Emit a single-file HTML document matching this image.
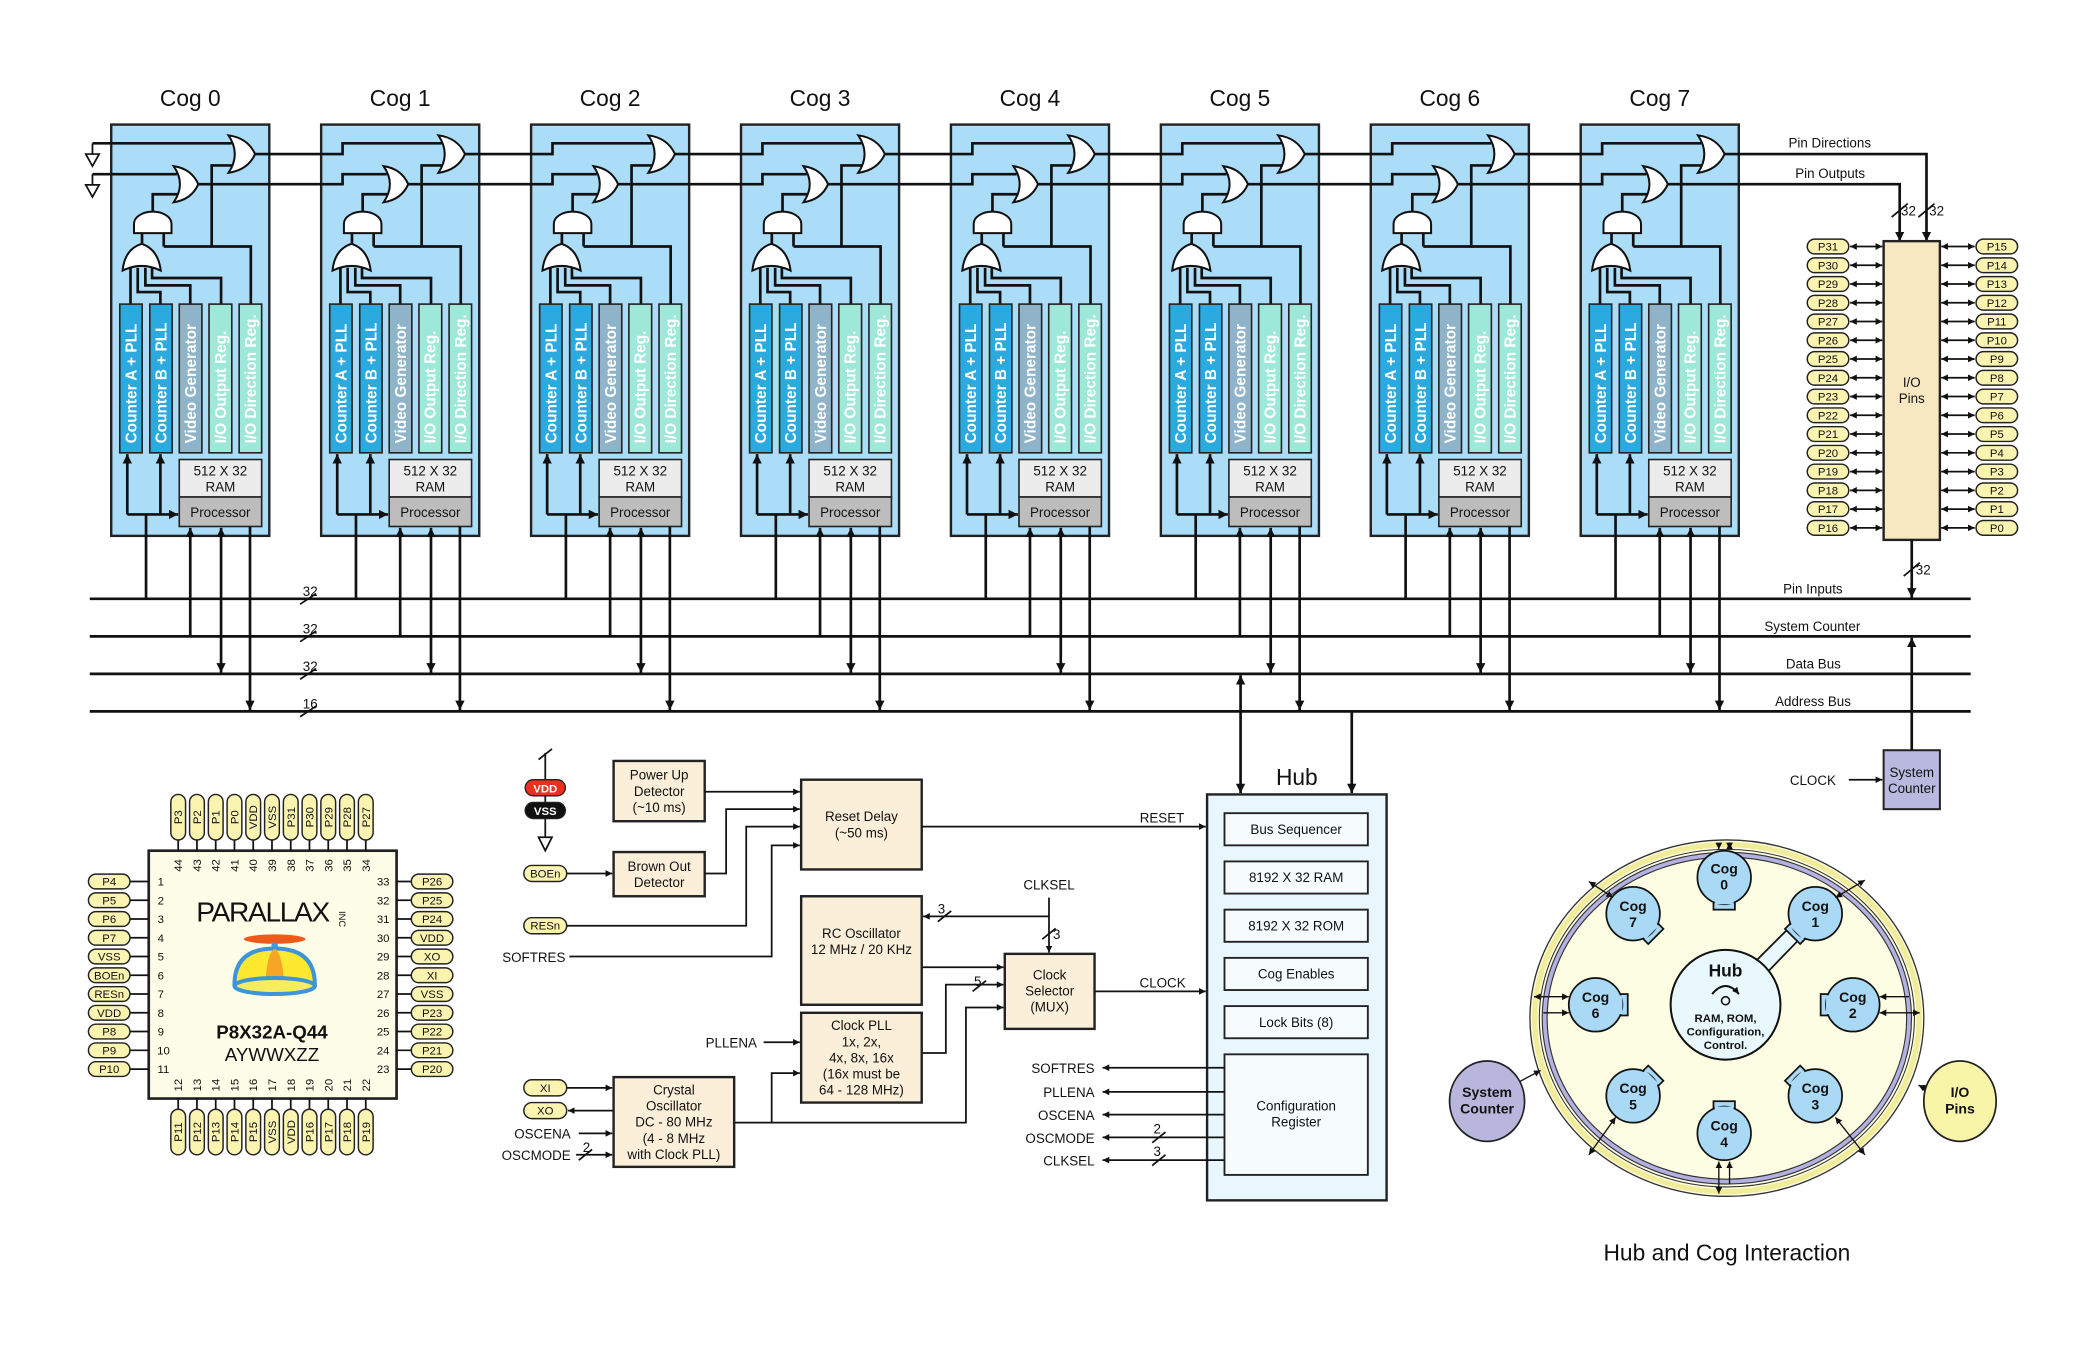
<!DOCTYPE html>
<html><head><meta charset="utf-8"><style>
html,body{margin:0;padding:0;background:#fff}
svg{display:block}
text{font-family:"Liberation Sans",sans-serif;fill:#111}
.t{font-size:17px;text-anchor:middle}
.cb{fill:#abdcf8;stroke:#222;stroke-width:1.8}
.w{fill:none;stroke:#111;stroke-width:2}
.n{fill:none;stroke:#111;stroke-width:1.3}
.g{fill:#fff;stroke:#111;stroke-width:1.5}
.ca{fill:#2aaade;stroke:#222;stroke-width:1.2}
.cv{fill:#8fb4c9;stroke:#222;stroke-width:1.2}
.cm{fill:#9de8d8;stroke:#222;stroke-width:1.2}
.v{font-size:11.5px;font-weight:bold;fill:#fff}
.ram{fill:#ececec;stroke:#222;stroke-width:1.2}
.pr{fill:#bdbdbd;stroke:#222;stroke-width:1.2}
.s{font-size:10px;text-anchor:middle}
.l{font-size:10px}
.pill{fill:#fbf4b0;stroke:#222;stroke-width:1.1}
.pt{font-size:8.5px;text-anchor:middle}
.bx{fill:#fbefd9;stroke:#222;stroke-width:1.8}
.hb{fill:#f6fcfe;stroke:#222;stroke-width:1.4}
</style></head><body>
<svg width="2100" height="1350" viewBox="0 0 1567.5 1007.7" xmlns="http://www.w3.org/2000/svg">
<defs>
<marker id="a" viewBox="0 0 10 10" refX="10" refY="5" markerWidth="7" markerHeight="7" markerUnits="userSpaceOnUse" orient="auto-start-reverse"><path d="M0,0 L10,5 L0,10z" fill="#111"/></marker>
<marker id="b" viewBox="0 0 10 10" refX="10" refY="5" markerWidth="5" markerHeight="5" markerUnits="userSpaceOnUse" orient="auto-start-reverse"><path d="M0,0 L10,5 L0,10z" fill="#111"/></marker>
</defs>

<g class="w">
<path d="M67,447 H1471 M67,475 H1471 M67,503 H1471 M67,531 H1471"/>
</g>
<g class="n"><path d="M224,451 L236,443 M224,479 L236,471 M224,507 L236,499 M224,535 L236,527"/></g>
<text x="226" y="445" class="l">32</text><text x="226" y="473" class="l">32</text><text x="226" y="501" class="l">32</text><text x="226" y="529" class="l">16</text>
<text x="1331" y="443" class="l">Pin Inputs</text>
<text x="1317" y="471" class="l">System Counter</text>
<text x="1333" y="499" class="l">Data Bus</text>
<text x="1325" y="527" class="l">Address Bus</text>

<g id="cogs">
<g transform="translate(83,0)">
<text x="59" y="79" class="t">Cog 0</text>
<rect x="0" y="93" width="118" height="307" class="cb"/>
<path class="w" d="M90,123.5 H75 V184 M39.2,184 H104.2 V227 M39.2,174 V184 M31,158 V145 H50 M23,174 V182 M14.4,200 V227 M19.8,200 V218 H36.7 V227 M25.5,200 V213 H59 V227 M30.5,200 V207.5 H82 V227"/>
<path class="g" d="M87.5,101 Q97,115 87.5,129 Q102,127 107.4,115 Q102,103 87.5,101Z"/>
<path class="g" d="M46.6,124 Q56,137.5 46.6,151 Q60,149 65,137.5 Q60,126 46.6,124Z"/>
<path class="g" d="M17,174 V167 A14,9 0 0 1 45,167 V174Z"/>
<path class="g" d="M8.5,202 Q22.7,195 37,202 Q35,186 22.7,182 Q10,186 8.5,202Z"/>
<rect x="6.4" y="227" width="16.7" height="111" class="ca"/><rect x="28.8" y="227" width="16.7" height="111" class="ca"/><rect x="50.8" y="227" width="16.9" height="111" class="cv"/><rect x="73" y="227" width="17" height="111" class="cm"/><rect x="95.5" y="227" width="16.8" height="111" class="cm"/>
<text transform="translate(18.8,331) rotate(-90)" class="v">Counter A + PLL</text><text transform="translate(41.2,331) rotate(-90)" class="v">Counter B + PLL</text><text transform="translate(63.3,331) rotate(-90)" class="v">Video Generator</text><text transform="translate(85.5,331) rotate(-90)" class="v">I/O Output Reg.</text><text transform="translate(108,331) rotate(-90)" class="v">I/O Direction Reg.</text>
<rect x="50.8" y="343" width="61.5" height="28" class="ram"/><rect x="50.8" y="371" width="61.5" height="22" class="pr"/>
<text x="81.5" y="355" class="s">512 X 32</text><text x="81.5" y="367" class="s">RAM</text><text x="81.5" y="386" class="s">Processor</text>
<path class="w" marker-end="url(#a)" d="M12,384 V339"/><path class="w" marker-end="url(#a)" d="M36.7,384 V339"/><path class="w" marker-end="url(#a)" d="M12,384 H50"/>
<path class="w" d="M26,384 V447"/><path class="w" marker-end="url(#a)" d="M59,475 V394"/><path class="w" marker-start="url(#a)" marker-end="url(#a)" d="M82,394 V502"/><path class="w" marker-end="url(#a)" d="M103.6,393 V530"/>
</g>
<g transform="translate(239.7,0)">
<text x="59" y="79" class="t">Cog 1</text>
<rect x="0" y="93" width="118" height="307" class="cb"/>
<path class="w" d="M90,123.5 H75 V184 M39.2,184 H104.2 V227 M39.2,174 V184 M31,158 V145 H50 M23,174 V182 M14.4,200 V227 M19.8,200 V218 H36.7 V227 M25.5,200 V213 H59 V227 M30.5,200 V207.5 H82 V227"/>
<path class="g" d="M87.5,101 Q97,115 87.5,129 Q102,127 107.4,115 Q102,103 87.5,101Z"/>
<path class="g" d="M46.6,124 Q56,137.5 46.6,151 Q60,149 65,137.5 Q60,126 46.6,124Z"/>
<path class="g" d="M17,174 V167 A14,9 0 0 1 45,167 V174Z"/>
<path class="g" d="M8.5,202 Q22.7,195 37,202 Q35,186 22.7,182 Q10,186 8.5,202Z"/>
<rect x="6.4" y="227" width="16.7" height="111" class="ca"/><rect x="28.8" y="227" width="16.7" height="111" class="ca"/><rect x="50.8" y="227" width="16.9" height="111" class="cv"/><rect x="73" y="227" width="17" height="111" class="cm"/><rect x="95.5" y="227" width="16.8" height="111" class="cm"/>
<text transform="translate(18.8,331) rotate(-90)" class="v">Counter A + PLL</text><text transform="translate(41.2,331) rotate(-90)" class="v">Counter B + PLL</text><text transform="translate(63.3,331) rotate(-90)" class="v">Video Generator</text><text transform="translate(85.5,331) rotate(-90)" class="v">I/O Output Reg.</text><text transform="translate(108,331) rotate(-90)" class="v">I/O Direction Reg.</text>
<rect x="50.8" y="343" width="61.5" height="28" class="ram"/><rect x="50.8" y="371" width="61.5" height="22" class="pr"/>
<text x="81.5" y="355" class="s">512 X 32</text><text x="81.5" y="367" class="s">RAM</text><text x="81.5" y="386" class="s">Processor</text>
<path class="w" marker-end="url(#a)" d="M12,384 V339"/><path class="w" marker-end="url(#a)" d="M36.7,384 V339"/><path class="w" marker-end="url(#a)" d="M12,384 H50"/>
<path class="w" d="M26,384 V447"/><path class="w" marker-end="url(#a)" d="M59,475 V394"/><path class="w" marker-start="url(#a)" marker-end="url(#a)" d="M82,394 V502"/><path class="w" marker-end="url(#a)" d="M103.6,393 V530"/>
</g>
<g transform="translate(396.4,0)">
<text x="59" y="79" class="t">Cog 2</text>
<rect x="0" y="93" width="118" height="307" class="cb"/>
<path class="w" d="M90,123.5 H75 V184 M39.2,184 H104.2 V227 M39.2,174 V184 M31,158 V145 H50 M23,174 V182 M14.4,200 V227 M19.8,200 V218 H36.7 V227 M25.5,200 V213 H59 V227 M30.5,200 V207.5 H82 V227"/>
<path class="g" d="M87.5,101 Q97,115 87.5,129 Q102,127 107.4,115 Q102,103 87.5,101Z"/>
<path class="g" d="M46.6,124 Q56,137.5 46.6,151 Q60,149 65,137.5 Q60,126 46.6,124Z"/>
<path class="g" d="M17,174 V167 A14,9 0 0 1 45,167 V174Z"/>
<path class="g" d="M8.5,202 Q22.7,195 37,202 Q35,186 22.7,182 Q10,186 8.5,202Z"/>
<rect x="6.4" y="227" width="16.7" height="111" class="ca"/><rect x="28.8" y="227" width="16.7" height="111" class="ca"/><rect x="50.8" y="227" width="16.9" height="111" class="cv"/><rect x="73" y="227" width="17" height="111" class="cm"/><rect x="95.5" y="227" width="16.8" height="111" class="cm"/>
<text transform="translate(18.8,331) rotate(-90)" class="v">Counter A + PLL</text><text transform="translate(41.2,331) rotate(-90)" class="v">Counter B + PLL</text><text transform="translate(63.3,331) rotate(-90)" class="v">Video Generator</text><text transform="translate(85.5,331) rotate(-90)" class="v">I/O Output Reg.</text><text transform="translate(108,331) rotate(-90)" class="v">I/O Direction Reg.</text>
<rect x="50.8" y="343" width="61.5" height="28" class="ram"/><rect x="50.8" y="371" width="61.5" height="22" class="pr"/>
<text x="81.5" y="355" class="s">512 X 32</text><text x="81.5" y="367" class="s">RAM</text><text x="81.5" y="386" class="s">Processor</text>
<path class="w" marker-end="url(#a)" d="M12,384 V339"/><path class="w" marker-end="url(#a)" d="M36.7,384 V339"/><path class="w" marker-end="url(#a)" d="M12,384 H50"/>
<path class="w" d="M26,384 V447"/><path class="w" marker-end="url(#a)" d="M59,475 V394"/><path class="w" marker-start="url(#a)" marker-end="url(#a)" d="M82,394 V502"/><path class="w" marker-end="url(#a)" d="M103.6,393 V530"/>
</g>
<g transform="translate(553.1,0)">
<text x="59" y="79" class="t">Cog 3</text>
<rect x="0" y="93" width="118" height="307" class="cb"/>
<path class="w" d="M90,123.5 H75 V184 M39.2,184 H104.2 V227 M39.2,174 V184 M31,158 V145 H50 M23,174 V182 M14.4,200 V227 M19.8,200 V218 H36.7 V227 M25.5,200 V213 H59 V227 M30.5,200 V207.5 H82 V227"/>
<path class="g" d="M87.5,101 Q97,115 87.5,129 Q102,127 107.4,115 Q102,103 87.5,101Z"/>
<path class="g" d="M46.6,124 Q56,137.5 46.6,151 Q60,149 65,137.5 Q60,126 46.6,124Z"/>
<path class="g" d="M17,174 V167 A14,9 0 0 1 45,167 V174Z"/>
<path class="g" d="M8.5,202 Q22.7,195 37,202 Q35,186 22.7,182 Q10,186 8.5,202Z"/>
<rect x="6.4" y="227" width="16.7" height="111" class="ca"/><rect x="28.8" y="227" width="16.7" height="111" class="ca"/><rect x="50.8" y="227" width="16.9" height="111" class="cv"/><rect x="73" y="227" width="17" height="111" class="cm"/><rect x="95.5" y="227" width="16.8" height="111" class="cm"/>
<text transform="translate(18.8,331) rotate(-90)" class="v">Counter A + PLL</text><text transform="translate(41.2,331) rotate(-90)" class="v">Counter B + PLL</text><text transform="translate(63.3,331) rotate(-90)" class="v">Video Generator</text><text transform="translate(85.5,331) rotate(-90)" class="v">I/O Output Reg.</text><text transform="translate(108,331) rotate(-90)" class="v">I/O Direction Reg.</text>
<rect x="50.8" y="343" width="61.5" height="28" class="ram"/><rect x="50.8" y="371" width="61.5" height="22" class="pr"/>
<text x="81.5" y="355" class="s">512 X 32</text><text x="81.5" y="367" class="s">RAM</text><text x="81.5" y="386" class="s">Processor</text>
<path class="w" marker-end="url(#a)" d="M12,384 V339"/><path class="w" marker-end="url(#a)" d="M36.7,384 V339"/><path class="w" marker-end="url(#a)" d="M12,384 H50"/>
<path class="w" d="M26,384 V447"/><path class="w" marker-end="url(#a)" d="M59,475 V394"/><path class="w" marker-start="url(#a)" marker-end="url(#a)" d="M82,394 V502"/><path class="w" marker-end="url(#a)" d="M103.6,393 V530"/>
</g>
<g transform="translate(709.8,0)">
<text x="59" y="79" class="t">Cog 4</text>
<rect x="0" y="93" width="118" height="307" class="cb"/>
<path class="w" d="M90,123.5 H75 V184 M39.2,184 H104.2 V227 M39.2,174 V184 M31,158 V145 H50 M23,174 V182 M14.4,200 V227 M19.8,200 V218 H36.7 V227 M25.5,200 V213 H59 V227 M30.5,200 V207.5 H82 V227"/>
<path class="g" d="M87.5,101 Q97,115 87.5,129 Q102,127 107.4,115 Q102,103 87.5,101Z"/>
<path class="g" d="M46.6,124 Q56,137.5 46.6,151 Q60,149 65,137.5 Q60,126 46.6,124Z"/>
<path class="g" d="M17,174 V167 A14,9 0 0 1 45,167 V174Z"/>
<path class="g" d="M8.5,202 Q22.7,195 37,202 Q35,186 22.7,182 Q10,186 8.5,202Z"/>
<rect x="6.4" y="227" width="16.7" height="111" class="ca"/><rect x="28.8" y="227" width="16.7" height="111" class="ca"/><rect x="50.8" y="227" width="16.9" height="111" class="cv"/><rect x="73" y="227" width="17" height="111" class="cm"/><rect x="95.5" y="227" width="16.8" height="111" class="cm"/>
<text transform="translate(18.8,331) rotate(-90)" class="v">Counter A + PLL</text><text transform="translate(41.2,331) rotate(-90)" class="v">Counter B + PLL</text><text transform="translate(63.3,331) rotate(-90)" class="v">Video Generator</text><text transform="translate(85.5,331) rotate(-90)" class="v">I/O Output Reg.</text><text transform="translate(108,331) rotate(-90)" class="v">I/O Direction Reg.</text>
<rect x="50.8" y="343" width="61.5" height="28" class="ram"/><rect x="50.8" y="371" width="61.5" height="22" class="pr"/>
<text x="81.5" y="355" class="s">512 X 32</text><text x="81.5" y="367" class="s">RAM</text><text x="81.5" y="386" class="s">Processor</text>
<path class="w" marker-end="url(#a)" d="M12,384 V339"/><path class="w" marker-end="url(#a)" d="M36.7,384 V339"/><path class="w" marker-end="url(#a)" d="M12,384 H50"/>
<path class="w" d="M26,384 V447"/><path class="w" marker-end="url(#a)" d="M59,475 V394"/><path class="w" marker-start="url(#a)" marker-end="url(#a)" d="M82,394 V502"/><path class="w" marker-end="url(#a)" d="M103.6,393 V530"/>
</g>
<g transform="translate(866.5,0)">
<text x="59" y="79" class="t">Cog 5</text>
<rect x="0" y="93" width="118" height="307" class="cb"/>
<path class="w" d="M90,123.5 H75 V184 M39.2,184 H104.2 V227 M39.2,174 V184 M31,158 V145 H50 M23,174 V182 M14.4,200 V227 M19.8,200 V218 H36.7 V227 M25.5,200 V213 H59 V227 M30.5,200 V207.5 H82 V227"/>
<path class="g" d="M87.5,101 Q97,115 87.5,129 Q102,127 107.4,115 Q102,103 87.5,101Z"/>
<path class="g" d="M46.6,124 Q56,137.5 46.6,151 Q60,149 65,137.5 Q60,126 46.6,124Z"/>
<path class="g" d="M17,174 V167 A14,9 0 0 1 45,167 V174Z"/>
<path class="g" d="M8.5,202 Q22.7,195 37,202 Q35,186 22.7,182 Q10,186 8.5,202Z"/>
<rect x="6.4" y="227" width="16.7" height="111" class="ca"/><rect x="28.8" y="227" width="16.7" height="111" class="ca"/><rect x="50.8" y="227" width="16.9" height="111" class="cv"/><rect x="73" y="227" width="17" height="111" class="cm"/><rect x="95.5" y="227" width="16.8" height="111" class="cm"/>
<text transform="translate(18.8,331) rotate(-90)" class="v">Counter A + PLL</text><text transform="translate(41.2,331) rotate(-90)" class="v">Counter B + PLL</text><text transform="translate(63.3,331) rotate(-90)" class="v">Video Generator</text><text transform="translate(85.5,331) rotate(-90)" class="v">I/O Output Reg.</text><text transform="translate(108,331) rotate(-90)" class="v">I/O Direction Reg.</text>
<rect x="50.8" y="343" width="61.5" height="28" class="ram"/><rect x="50.8" y="371" width="61.5" height="22" class="pr"/>
<text x="81.5" y="355" class="s">512 X 32</text><text x="81.5" y="367" class="s">RAM</text><text x="81.5" y="386" class="s">Processor</text>
<path class="w" marker-end="url(#a)" d="M12,384 V339"/><path class="w" marker-end="url(#a)" d="M36.7,384 V339"/><path class="w" marker-end="url(#a)" d="M12,384 H50"/>
<path class="w" d="M26,384 V447"/><path class="w" marker-end="url(#a)" d="M59,475 V394"/><path class="w" marker-start="url(#a)" marker-end="url(#a)" d="M82,394 V502"/><path class="w" marker-end="url(#a)" d="M103.6,393 V530"/>
</g>
<g transform="translate(1023.2,0)">
<text x="59" y="79" class="t">Cog 6</text>
<rect x="0" y="93" width="118" height="307" class="cb"/>
<path class="w" d="M90,123.5 H75 V184 M39.2,184 H104.2 V227 M39.2,174 V184 M31,158 V145 H50 M23,174 V182 M14.4,200 V227 M19.8,200 V218 H36.7 V227 M25.5,200 V213 H59 V227 M30.5,200 V207.5 H82 V227"/>
<path class="g" d="M87.5,101 Q97,115 87.5,129 Q102,127 107.4,115 Q102,103 87.5,101Z"/>
<path class="g" d="M46.6,124 Q56,137.5 46.6,151 Q60,149 65,137.5 Q60,126 46.6,124Z"/>
<path class="g" d="M17,174 V167 A14,9 0 0 1 45,167 V174Z"/>
<path class="g" d="M8.5,202 Q22.7,195 37,202 Q35,186 22.7,182 Q10,186 8.5,202Z"/>
<rect x="6.4" y="227" width="16.7" height="111" class="ca"/><rect x="28.8" y="227" width="16.7" height="111" class="ca"/><rect x="50.8" y="227" width="16.9" height="111" class="cv"/><rect x="73" y="227" width="17" height="111" class="cm"/><rect x="95.5" y="227" width="16.8" height="111" class="cm"/>
<text transform="translate(18.8,331) rotate(-90)" class="v">Counter A + PLL</text><text transform="translate(41.2,331) rotate(-90)" class="v">Counter B + PLL</text><text transform="translate(63.3,331) rotate(-90)" class="v">Video Generator</text><text transform="translate(85.5,331) rotate(-90)" class="v">I/O Output Reg.</text><text transform="translate(108,331) rotate(-90)" class="v">I/O Direction Reg.</text>
<rect x="50.8" y="343" width="61.5" height="28" class="ram"/><rect x="50.8" y="371" width="61.5" height="22" class="pr"/>
<text x="81.5" y="355" class="s">512 X 32</text><text x="81.5" y="367" class="s">RAM</text><text x="81.5" y="386" class="s">Processor</text>
<path class="w" marker-end="url(#a)" d="M12,384 V339"/><path class="w" marker-end="url(#a)" d="M36.7,384 V339"/><path class="w" marker-end="url(#a)" d="M12,384 H50"/>
<path class="w" d="M26,384 V447"/><path class="w" marker-end="url(#a)" d="M59,475 V394"/><path class="w" marker-start="url(#a)" marker-end="url(#a)" d="M82,394 V502"/><path class="w" marker-end="url(#a)" d="M103.6,393 V530"/>
</g>
<g transform="translate(1179.9,0)">
<text x="59" y="79" class="t">Cog 7</text>
<rect x="0" y="93" width="118" height="307" class="cb"/>
<path class="w" d="M90,123.5 H75 V184 M39.2,184 H104.2 V227 M39.2,174 V184 M31,158 V145 H50 M23,174 V182 M14.4,200 V227 M19.8,200 V218 H36.7 V227 M25.5,200 V213 H59 V227 M30.5,200 V207.5 H82 V227"/>
<path class="g" d="M87.5,101 Q97,115 87.5,129 Q102,127 107.4,115 Q102,103 87.5,101Z"/>
<path class="g" d="M46.6,124 Q56,137.5 46.6,151 Q60,149 65,137.5 Q60,126 46.6,124Z"/>
<path class="g" d="M17,174 V167 A14,9 0 0 1 45,167 V174Z"/>
<path class="g" d="M8.5,202 Q22.7,195 37,202 Q35,186 22.7,182 Q10,186 8.5,202Z"/>
<rect x="6.4" y="227" width="16.7" height="111" class="ca"/><rect x="28.8" y="227" width="16.7" height="111" class="ca"/><rect x="50.8" y="227" width="16.9" height="111" class="cv"/><rect x="73" y="227" width="17" height="111" class="cm"/><rect x="95.5" y="227" width="16.8" height="111" class="cm"/>
<text transform="translate(18.8,331) rotate(-90)" class="v">Counter A + PLL</text><text transform="translate(41.2,331) rotate(-90)" class="v">Counter B + PLL</text><text transform="translate(63.3,331) rotate(-90)" class="v">Video Generator</text><text transform="translate(85.5,331) rotate(-90)" class="v">I/O Output Reg.</text><text transform="translate(108,331) rotate(-90)" class="v">I/O Direction Reg.</text>
<rect x="50.8" y="343" width="61.5" height="28" class="ram"/><rect x="50.8" y="371" width="61.5" height="22" class="pr"/>
<text x="81.5" y="355" class="s">512 X 32</text><text x="81.5" y="367" class="s">RAM</text><text x="81.5" y="386" class="s">Processor</text>
<path class="w" marker-end="url(#a)" d="M12,384 V339"/><path class="w" marker-end="url(#a)" d="M36.7,384 V339"/><path class="w" marker-end="url(#a)" d="M12,384 H50"/>
<path class="w" d="M26,384 V447"/><path class="w" marker-end="url(#a)" d="M59,475 V394"/><path class="w" marker-start="url(#a)" marker-end="url(#a)" d="M82,394 V502"/><path class="w" marker-end="url(#a)" d="M103.6,393 V530"/>
</g>
</g>

<path class="w" d="M69,107 H173 M190.4,115 H255.7 V107 H329.7 M347.1,115 H412.4 V107 H486.4 M503.8,115 H569.1 V107 H643.1 M660.5,115 H725.8 V107 H799.8 M817.2,115 H882.5 V107 H956.5 M973.9,115 H1039.2 V107 H1113.2 M1130.6,115 H1195.9 V107 H1269.9"/>
<path class="w" d="M69,130 H132 M148,137.5 H255.7 V130 H288.7 M304.7,137.5 H412.4 V130 H445.4 M461.4,137.5 H569.1 V130 H602.1 M618.1,137.5 H725.8 V130 H758.8 M774.8,137.5 H882.5 V130 H915.5 M931.5,137.5 H1039.2 V130 H1072.2 M1088.2,137.5 H1195.9 V130 H1228.9"/>
<path class="w" marker-end="url(#a)" d="M1287.3,115 H1438 V180"/>
<path class="w" marker-end="url(#a)" d="M1244.9,137.5 H1418 V180"/>
<path class="n" d="M69,107 V115 M69,130 V138"/>
<path class="n" fill="#fff" d="M64,115 H74 L69,124Z M64,138 H74 L69,147Z"/>
<text x="1335" y="110" class="l">Pin Directions</text>
<text x="1340" y="133" class="l">Pin Outputs</text>
<path class="n" d="M1412,162 L1424,152 M1432,162 L1444,152"/>
<text x="1419" y="161" class="l">32</text><text x="1440" y="161" class="l">32</text>

<rect x="1406" y="180" width="42" height="223" fill="#f8e8c2" stroke="#222" stroke-width="1.8"/>
<text x="1427" y="289" class="s">I/O</text><text x="1427" y="301" class="s">Pins</text>
<g>
<rect x="1349" y="178.5" width="31" height="11" rx="5.5" class="pill"/><text x="1364.5" y="187" class="pt">P31</text>
<rect x="1349" y="192.5" width="31" height="11" rx="5.5" class="pill"/><text x="1364.5" y="201" class="pt">P30</text>
<rect x="1349" y="206.5" width="31" height="11" rx="5.5" class="pill"/><text x="1364.5" y="215" class="pt">P29</text>
<rect x="1349" y="220.5" width="31" height="11" rx="5.5" class="pill"/><text x="1364.5" y="229" class="pt">P28</text>
<rect x="1349" y="234.5" width="31" height="11" rx="5.5" class="pill"/><text x="1364.5" y="243" class="pt">P27</text>
<rect x="1349" y="248.5" width="31" height="11" rx="5.5" class="pill"/><text x="1364.5" y="257" class="pt">P26</text>
<rect x="1349" y="262.5" width="31" height="11" rx="5.5" class="pill"/><text x="1364.5" y="271" class="pt">P25</text>
<rect x="1349" y="276.5" width="31" height="11" rx="5.5" class="pill"/><text x="1364.5" y="285" class="pt">P24</text>
<rect x="1349" y="290.5" width="31" height="11" rx="5.5" class="pill"/><text x="1364.5" y="299" class="pt">P23</text>
<rect x="1349" y="304.5" width="31" height="11" rx="5.5" class="pill"/><text x="1364.5" y="313" class="pt">P22</text>
<rect x="1349" y="318.5" width="31" height="11" rx="5.5" class="pill"/><text x="1364.5" y="327" class="pt">P21</text>
<rect x="1349" y="332.5" width="31" height="11" rx="5.5" class="pill"/><text x="1364.5" y="341" class="pt">P20</text>
<rect x="1349" y="346.5" width="31" height="11" rx="5.5" class="pill"/><text x="1364.5" y="355" class="pt">P19</text>
<rect x="1349" y="360.5" width="31" height="11" rx="5.5" class="pill"/><text x="1364.5" y="369" class="pt">P18</text>
<rect x="1349" y="374.5" width="31" height="11" rx="5.5" class="pill"/><text x="1364.5" y="383" class="pt">P17</text>
<rect x="1349" y="388.5" width="31" height="11" rx="5.5" class="pill"/><text x="1364.5" y="397" class="pt">P16</text>
<rect x="1475" y="178.5" width="31" height="11" rx="5.5" class="pill"/><text x="1490.5" y="187" class="pt">P15</text>
<rect x="1475" y="192.5" width="31" height="11" rx="5.5" class="pill"/><text x="1490.5" y="201" class="pt">P14</text>
<rect x="1475" y="206.5" width="31" height="11" rx="5.5" class="pill"/><text x="1490.5" y="215" class="pt">P13</text>
<rect x="1475" y="220.5" width="31" height="11" rx="5.5" class="pill"/><text x="1490.5" y="229" class="pt">P12</text>
<rect x="1475" y="234.5" width="31" height="11" rx="5.5" class="pill"/><text x="1490.5" y="243" class="pt">P11</text>
<rect x="1475" y="248.5" width="31" height="11" rx="5.5" class="pill"/><text x="1490.5" y="257" class="pt">P10</text>
<rect x="1475" y="262.5" width="31" height="11" rx="5.5" class="pill"/><text x="1490.5" y="271" class="pt">P9</text>
<rect x="1475" y="276.5" width="31" height="11" rx="5.5" class="pill"/><text x="1490.5" y="285" class="pt">P8</text>
<rect x="1475" y="290.5" width="31" height="11" rx="5.5" class="pill"/><text x="1490.5" y="299" class="pt">P7</text>
<rect x="1475" y="304.5" width="31" height="11" rx="5.5" class="pill"/><text x="1490.5" y="313" class="pt">P6</text>
<rect x="1475" y="318.5" width="31" height="11" rx="5.5" class="pill"/><text x="1490.5" y="327" class="pt">P5</text>
<rect x="1475" y="332.5" width="31" height="11" rx="5.5" class="pill"/><text x="1490.5" y="341" class="pt">P4</text>
<rect x="1475" y="346.5" width="31" height="11" rx="5.5" class="pill"/><text x="1490.5" y="355" class="pt">P3</text>
<rect x="1475" y="360.5" width="31" height="11" rx="5.5" class="pill"/><text x="1490.5" y="369" class="pt">P2</text>
<rect x="1475" y="374.5" width="31" height="11" rx="5.5" class="pill"/><text x="1490.5" y="383" class="pt">P1</text>
<rect x="1475" y="388.5" width="31" height="11" rx="5.5" class="pill"/><text x="1490.5" y="397" class="pt">P0</text>
</g>
<g class="n" marker-start="url(#b)" marker-end="url(#b)">
<path d="M1381,184 H1405"/><path d="M1381,198 H1405"/><path d="M1381,212 H1405"/><path d="M1381,226 H1405"/><path d="M1381,240 H1405"/><path d="M1381,254 H1405"/><path d="M1381,268 H1405"/><path d="M1381,282 H1405"/><path d="M1381,296 H1405"/><path d="M1381,310 H1405"/><path d="M1381,324 H1405"/><path d="M1381,338 H1405"/><path d="M1381,352 H1405"/><path d="M1381,366 H1405"/><path d="M1381,380 H1405"/><path d="M1381,394 H1405"/>
<path d="M1449,184 H1474"/><path d="M1449,198 H1474"/><path d="M1449,212 H1474"/><path d="M1449,226 H1474"/><path d="M1449,240 H1474"/><path d="M1449,254 H1474"/><path d="M1449,268 H1474"/><path d="M1449,282 H1474"/><path d="M1449,296 H1474"/><path d="M1449,310 H1474"/><path d="M1449,324 H1474"/><path d="M1449,338 H1474"/><path d="M1449,352 H1474"/><path d="M1449,366 H1474"/><path d="M1449,380 H1474"/><path d="M1449,394 H1474"/>
</g>
<path class="w" marker-end="url(#a)" d="M1427,403 V446"/>
<path class="n" d="M1421,430 L1433,420"/><text x="1430" y="429" class="l">32</text>

<rect x="1406" y="560" width="42" height="44" fill="#b9b9e0" stroke="#222" stroke-width="1.5"/>
<text x="1427" y="580" class="s">System</text><text x="1427" y="592" class="s">Counter</text>
<path class="w" marker-end="url(#a)" d="M1427,560 V476"/>
<text x="1336" y="586" class="l">CLOCK</text>
<path class="n" marker-end="url(#b)" d="M1380,582 H1405"/>

<text x="968" y="586" style="font-size:17px;text-anchor:middle">Hub</text>
<path class="w" marker-start="url(#a)" marker-end="url(#a)" d="M926,504 V592"/>
<path class="w" marker-end="url(#a)" d="M1009,531 V592"/>
<rect x="901" y="593" width="134" height="303" fill="#e8f7fd" stroke="#222" stroke-width="1.8"/>
<rect x="914" y="607" width="107" height="24" class="hb"/><text x="967.5" y="622.5" class="s">Bus Sequencer</text>
<rect x="914" y="643" width="107" height="24" class="hb"/><text x="967.5" y="658.5" class="s">8192 X 32 RAM</text>
<rect x="914" y="679" width="107" height="24" class="hb"/><text x="967.5" y="694.5" class="s">8192 X 32 ROM</text>
<rect x="914" y="715" width="107" height="24" class="hb"/><text x="967.5" y="730.5" class="s">Cog Enables</text>
<rect x="914" y="751" width="107" height="24" class="hb"/><text x="967.5" y="766.5" class="s">Lock Bits (8)</text>
<rect x="914" y="787" width="107" height="90" class="hb"/><text x="967.5" y="829" class="s">Configuration</text><text x="967.5" y="841" class="s">Register</text>
<g class="n" marker-end="url(#b)">
<path d="M914,797 H823"/><path d="M914,815 H823"/><path d="M914,832 H823"/><path d="M914,849 H823"/><path d="M914,866 H823"/>
</g>
<path class="n" d="M860,853 L870,845 M860,870 L870,862"/>
<text x="861" y="846" class="l">2</text><text x="861" y="863" class="l">3</text>
<g class="l" style="text-anchor:end">
<text x="817" y="801">SOFTRES</text><text x="817" y="819">PLLENA</text><text x="817" y="836">OSCENA</text><text x="817" y="853">OSCMODE</text><text x="817" y="870">CLKSEL</text>
</g>

<path class="n" d="M407,562 V625 M402,567 L412,559"/>
<path class="n" fill="#fff" d="M402,625 H412 L407,635Z"/>
<rect x="392" y="582" width="30" height="12" rx="6" fill="#e8321e" stroke="#222"/><text x="407" y="591.5" class="pt" style="fill:#fff;font-weight:bold">VDD</text>
<rect x="392" y="599" width="30" height="12" rx="6" fill="#111" stroke="#222"/><text x="407" y="608.5" class="pt" style="fill:#fff;font-weight:bold">VSS</text>
<rect x="458" y="568" width="68" height="45" class="bx"/><text x="492" y="582" class="s">Power Up</text><text x="492" y="594" class="s">Detector</text><text x="492" y="606" class="s">(~10 ms)</text>
<rect x="458" y="636" width="68" height="33" class="bx"/><text x="492" y="650" class="s">Brown Out</text><text x="492" y="662" class="s">Detector</text>
<rect x="598" y="582" width="90" height="67" class="bx"/><text x="643" y="613" class="s">Reset Delay</text><text x="643" y="625" class="s">(~50 ms)</text>
<rect x="391" y="646" width="32" height="12" rx="6" class="pill"/><text x="407" y="655" class="pt">BOEn</text>
<rect x="391" y="685" width="32" height="12" rx="6" class="pill"/><text x="407" y="694" class="pt">RESn</text>
<text x="422" y="718" class="l" style="text-anchor:end">SOFTRES</text>
<g class="n" marker-end="url(#b)">
<path d="M423,652 H457"/><path d="M526,591 H597"/><path d="M526,652 H542 V604 H597"/><path d="M423,691 H557 V617 H597"/><path d="M425,714 H576 V631 H597"/>
<path d="M688,617 H900"/><path d="M688,722 H749"/><path d="M817,740 H900"/>
<path d="M783,670 V711"/><path d="M783,684 H689"/>
<path d="M570,778 H597"/><path d="M688,786 H706 V735 H749"/>
<path d="M548,838 H576 V801 H597"/><path d="M576,838 H721 V752 H749"/>
<path d="M423,812 H457"/><path d="M458,829 H424"/><path d="M432,846 H457"/><path d="M430,862 H457"/>
</g>
<text x="884" y="614" class="l" style="text-anchor:end">RESET</text>
<text x="885" y="737" class="l" style="text-anchor:end">CLOCK</text>
<text x="783" y="664" class="l" style="text-anchor:middle">CLKSEL</text>
<path class="n" d="M778,701 L788,693 M700,688 L710,680 M726,740 L736,732 M432,866 L442,858"/>
<text x="786" y="701" class="l">3</text><text x="700" y="682" class="l">3</text><text x="727" y="736" class="l">5</text><text x="435" y="860" class="l">2</text>
<rect x="598" y="669" width="90" height="81" class="bx"/><text x="643" y="700" class="s">RC Oscillator</text><text x="643" y="712" class="s">12 MHz / 20 KHz</text>
<rect x="750" y="712" width="67" height="56" class="bx"/><text x="783.5" y="731" class="s">Clock</text><text x="783.5" y="743" class="s">Selector</text><text x="783.5" y="755" class="s">(MUX)</text>
<rect x="598" y="756" width="90" height="67" class="bx"/>
<text x="643" y="769" class="s">Clock PLL</text><text x="643" y="781" class="s">1x, 2x,</text><text x="643" y="793" class="s">4x, 8x, 16x</text><text x="643" y="805" class="s">(16x must be</text><text x="643" y="817" class="s">64 - 128 MHz)</text>
<text x="565" y="782" class="l" style="text-anchor:end">PLLENA</text>
<rect x="458" y="804" width="90" height="67" class="bx"/>
<text x="503" y="817" class="s">Crystal</text><text x="503" y="829" class="s">Oscillator</text><text x="503" y="841" class="s">DC - 80 MHz</text><text x="503" y="853" class="s">(4 - 8 MHz</text><text x="503" y="865" class="s">with Clock PLL)</text>
<rect x="391" y="806" width="32" height="12" rx="6" class="pill"/><text x="407" y="815" class="pt">XI</text>
<rect x="391" y="823" width="32" height="12" rx="6" class="pill"/><text x="407" y="832" class="pt">XO</text>
<text x="426" y="850" class="l" style="text-anchor:end">OSCENA</text>
<text x="426" y="866" class="l" style="text-anchor:end">OSCMODE</text>

<rect x="111" y="635" width="185" height="185" fill="#fdfde8" stroke="#222" stroke-width="2"/>
<g class="n">
<path d="M97,658 H111 M97,672 H111 M97,686 H111 M97,700 H111 M97,714 H111 M97,728 H111 M97,742 H111 M97,756 H111 M97,770 H111 M97,784 H111 M97,798 H111"/>
<path d="M296,658 H307 M296,672 H307 M296,686 H307 M296,700 H307 M296,714 H307 M296,728 H307 M296,742 H307 M296,756 H307 M296,770 H307 M296,784 H307 M296,798 H307"/>
<path d="M133,627 V635 M147,627 V635 M161,627 V635 M175,627 V635 M189,627 V635 M203,627 V635 M217,627 V635 M231,627 V635 M245,627 V635 M259,627 V635 M273,627 V635"/>
<path d="M133,820 V828 M147,820 V828 M161,820 V828 M175,820 V828 M189,820 V828 M203,820 V828 M217,820 V828 M231,820 V828 M245,820 V828 M259,820 V828 M273,820 V828"/>
</g>
<g>
<rect x="66" y="652.5" width="31" height="11" rx="5.5" class="pill"/><text x="81.5" y="661" class="pt">P4</text>
<rect x="66" y="666.5" width="31" height="11" rx="5.5" class="pill"/><text x="81.5" y="675" class="pt">P5</text>
<rect x="66" y="680.5" width="31" height="11" rx="5.5" class="pill"/><text x="81.5" y="689" class="pt">P6</text>
<rect x="66" y="694.5" width="31" height="11" rx="5.5" class="pill"/><text x="81.5" y="703" class="pt">P7</text>
<rect x="66" y="708.5" width="31" height="11" rx="5.5" class="pill"/><text x="81.5" y="717" class="pt">VSS</text>
<rect x="66" y="722.5" width="31" height="11" rx="5.5" class="pill"/><text x="81.5" y="731" class="pt">BOEn</text>
<rect x="66" y="736.5" width="31" height="11" rx="5.5" class="pill"/><text x="81.5" y="745" class="pt">RESn</text>
<rect x="66" y="750.5" width="31" height="11" rx="5.5" class="pill"/><text x="81.5" y="759" class="pt">VDD</text>
<rect x="66" y="764.5" width="31" height="11" rx="5.5" class="pill"/><text x="81.5" y="773" class="pt">P8</text>
<rect x="66" y="778.5" width="31" height="11" rx="5.5" class="pill"/><text x="81.5" y="787" class="pt">P9</text>
<rect x="66" y="792.5" width="31" height="11" rx="5.5" class="pill"/><text x="81.5" y="801" class="pt">P10</text>
<rect x="307" y="652.5" width="31" height="11" rx="5.5" class="pill"/><text x="322.5" y="661" class="pt">P26</text>
<rect x="307" y="666.5" width="31" height="11" rx="5.5" class="pill"/><text x="322.5" y="675" class="pt">P25</text>
<rect x="307" y="680.5" width="31" height="11" rx="5.5" class="pill"/><text x="322.5" y="689" class="pt">P24</text>
<rect x="307" y="694.5" width="31" height="11" rx="5.5" class="pill"/><text x="322.5" y="703" class="pt">VDD</text>
<rect x="307" y="708.5" width="31" height="11" rx="5.5" class="pill"/><text x="322.5" y="717" class="pt">XO</text>
<rect x="307" y="722.5" width="31" height="11" rx="5.5" class="pill"/><text x="322.5" y="731" class="pt">XI</text>
<rect x="307" y="736.5" width="31" height="11" rx="5.5" class="pill"/><text x="322.5" y="745" class="pt">VSS</text>
<rect x="307" y="750.5" width="31" height="11" rx="5.5" class="pill"/><text x="322.5" y="759" class="pt">P23</text>
<rect x="307" y="764.5" width="31" height="11" rx="5.5" class="pill"/><text x="322.5" y="773" class="pt">P22</text>
<rect x="307" y="778.5" width="31" height="11" rx="5.5" class="pill"/><text x="322.5" y="787" class="pt">P21</text>
<rect x="307" y="792.5" width="31" height="11" rx="5.5" class="pill"/><text x="322.5" y="801" class="pt">P20</text>
</g>
<g>
<rect x="127.5" y="593" width="11" height="34" rx="5.5" class="pill"/><rect x="141.5" y="593" width="11" height="34" rx="5.5" class="pill"/><rect x="155.5" y="593" width="11" height="34" rx="5.5" class="pill"/><rect x="169.5" y="593" width="11" height="34" rx="5.5" class="pill"/><rect x="183.5" y="593" width="11" height="34" rx="5.5" class="pill"/><rect x="197.5" y="593" width="11" height="34" rx="5.5" class="pill"/><rect x="211.5" y="593" width="11" height="34" rx="5.5" class="pill"/><rect x="225.5" y="593" width="11" height="34" rx="5.5" class="pill"/><rect x="239.5" y="593" width="11" height="34" rx="5.5" class="pill"/><rect x="253.5" y="593" width="11" height="34" rx="5.5" class="pill"/><rect x="267.5" y="593" width="11" height="34" rx="5.5" class="pill"/>
<rect x="127.5" y="828" width="11" height="34" rx="5.5" class="pill"/><rect x="141.5" y="828" width="11" height="34" rx="5.5" class="pill"/><rect x="155.5" y="828" width="11" height="34" rx="5.5" class="pill"/><rect x="169.5" y="828" width="11" height="34" rx="5.5" class="pill"/><rect x="183.5" y="828" width="11" height="34" rx="5.5" class="pill"/><rect x="197.5" y="828" width="11" height="34" rx="5.5" class="pill"/><rect x="211.5" y="828" width="11" height="34" rx="5.5" class="pill"/><rect x="225.5" y="828" width="11" height="34" rx="5.5" class="pill"/><rect x="239.5" y="828" width="11" height="34" rx="5.5" class="pill"/><rect x="253.5" y="828" width="11" height="34" rx="5.5" class="pill"/><rect x="267.5" y="828" width="11" height="34" rx="5.5" class="pill"/>
</g>
<g class="pt">
<text transform="translate(136,610) rotate(-90)">P3</text><text transform="translate(150,610) rotate(-90)">P2</text><text transform="translate(164,610) rotate(-90)">P1</text><text transform="translate(178,610) rotate(-90)">P0</text><text transform="translate(192,610) rotate(-90)">VDD</text><text transform="translate(206,610) rotate(-90)">VSS</text><text transform="translate(220,610) rotate(-90)">P31</text><text transform="translate(234,610) rotate(-90)">P30</text><text transform="translate(248,610) rotate(-90)">P29</text><text transform="translate(262,610) rotate(-90)">P28</text><text transform="translate(276,610) rotate(-90)">P27</text>
<text transform="translate(136,845) rotate(-90)">P11</text><text transform="translate(150,845) rotate(-90)">P12</text><text transform="translate(164,845) rotate(-90)">P13</text><text transform="translate(178,845) rotate(-90)">P14</text><text transform="translate(192,845) rotate(-90)">P15</text><text transform="translate(206,845) rotate(-90)">VSS</text><text transform="translate(220,845) rotate(-90)">VDD</text><text transform="translate(234,845) rotate(-90)">P16</text><text transform="translate(248,845) rotate(-90)">P17</text><text transform="translate(262,845) rotate(-90)">P18</text><text transform="translate(276,845) rotate(-90)">P19</text>
<text transform="translate(136,646) rotate(-90)">44</text><text transform="translate(150,646) rotate(-90)">43</text><text transform="translate(164,646) rotate(-90)">42</text><text transform="translate(178,646) rotate(-90)">41</text><text transform="translate(192,646) rotate(-90)">40</text><text transform="translate(206,646) rotate(-90)">39</text><text transform="translate(220,646) rotate(-90)">38</text><text transform="translate(234,646) rotate(-90)">37</text><text transform="translate(248,646) rotate(-90)">36</text><text transform="translate(262,646) rotate(-90)">35</text><text transform="translate(276,646) rotate(-90)">34</text>
<text transform="translate(136,810) rotate(-90)">12</text><text transform="translate(150,810) rotate(-90)">13</text><text transform="translate(164,810) rotate(-90)">14</text><text transform="translate(178,810) rotate(-90)">15</text><text transform="translate(192,810) rotate(-90)">16</text><text transform="translate(206,810) rotate(-90)">17</text><text transform="translate(220,810) rotate(-90)">18</text><text transform="translate(234,810) rotate(-90)">19</text><text transform="translate(248,810) rotate(-90)">20</text><text transform="translate(262,810) rotate(-90)">21</text><text transform="translate(276,810) rotate(-90)">22</text>
<text x="120" y="661">1</text><text x="120" y="675">2</text><text x="120" y="689">3</text><text x="120" y="703">4</text><text x="120" y="717">5</text><text x="120" y="731">6</text><text x="120" y="745">7</text><text x="120" y="759">8</text><text x="120" y="773">9</text><text x="122" y="787">10</text><text x="122" y="801">11</text>
<text x="286" y="661">33</text><text x="286" y="675">32</text><text x="286" y="689">31</text><text x="286" y="703">30</text><text x="286" y="717">29</text><text x="286" y="731">28</text><text x="286" y="745">27</text><text x="286" y="759">26</text><text x="286" y="773">25</text><text x="286" y="787">24</text><text x="286" y="801">23</text>
</g>
<text x="196" y="688" style="font-size:21px;text-anchor:middle;font-weight:300;letter-spacing:-1px">PARALLAX</text>
<text transform="translate(253,680) rotate(90)" style="font-size:7px">INC</text>
<ellipse cx="205" cy="701" rx="23" ry="3.5" fill="#ee5a1a"/>
<circle cx="205" cy="706" r="2.5" fill="#3fa0e0"/>
<path d="M175,735 Q175,708 205,708 Q235,708 235,735Z" fill="#ffe830" stroke="#3d95d9" stroke-width="3"/>
<path d="M198,735 Q199,712 205,708 Q211,712 212,735Z" fill="#f7a525"/>
<ellipse cx="205" cy="736" rx="30" ry="6" fill="#f5ec60" stroke="#3d95d9" stroke-width="3"/>
<text x="203" y="775" style="font-size:14px;font-weight:bold;text-anchor:middle">P8X32A-Q44</text>
<text x="203" y="792" style="font-size:14px;text-anchor:middle">AYWWXZZ</text>

<ellipse cx="1289" cy="760" rx="147" ry="133" fill="#fdfde3" stroke="#333" stroke-width="1"/>
<ellipse cx="1289" cy="760" rx="143.5" ry="129.5" fill="none" stroke="#f1ec9a" stroke-width="4"/>
<ellipse cx="1289" cy="760" rx="140" ry="126" fill="none" stroke="#333" stroke-width="0.8"/>
<ellipse cx="1289" cy="760" rx="136" ry="122" fill="none" stroke="#333" stroke-width="4.5"/>
<ellipse cx="1289" cy="760" rx="136" ry="122" fill="none" stroke="#b3b0e2" stroke-width="2.8"/>
<path d="M1310,718 L1340,688 L1348,696 L1318,727Z" fill="#e8f8fc" stroke="#111" stroke-width="1.3"/>
<circle cx="1288" cy="750" r="41" fill="#e8f8fc" stroke="#111" stroke-width="1.5"/>
<path d="M1312,722 L1319,729" stroke="#e8f8fc" stroke-width="4"/>
<text x="1288" y="729" style="font-size:13px;font-weight:bold;text-anchor:middle">Hub</text>
<path d="M1278,742 Q1288,730 1298,742" fill="none" stroke="#111" stroke-width="1.5" marker-end="url(#b)"/>
<circle cx="1288" cy="747" r="3" fill="none" stroke="#111" stroke-width="1.2"/>
<text x="1288" y="763" style="font-size:8.5px;font-weight:bold;text-anchor:middle">RAM, ROM,</text>
<text x="1288" y="773" style="font-size:8.5px;font-weight:bold;text-anchor:middle">Configuration,</text>
<text x="1288" y="783" style="font-size:8.5px;font-weight:bold;text-anchor:middle">Control.</text>
<g fill="#a9d9f5" stroke="#111" stroke-width="1.3">
<g transform="translate(1287,655)"><rect x="-8" y="12" width="16" height="12"/><circle r="20"/><rect x="-7" y="10" width="14" height="10" stroke="none"/></g>
<g transform="translate(1355,682) rotate(45)"><rect x="-8" y="12" width="16" height="12"/><circle r="20"/><rect x="-7" y="10" width="14" height="10" stroke="none"/></g>
<g transform="translate(1383,750) rotate(90)"><rect x="-8" y="12" width="16" height="12"/><circle r="20"/><rect x="-7" y="10" width="14" height="10" stroke="none"/></g>
<g transform="translate(1355,818) rotate(135)"><rect x="-8" y="12" width="16" height="12"/><circle r="20"/><rect x="-7" y="10" width="14" height="10" stroke="none"/></g>
<g transform="translate(1287,846) rotate(180)"><rect x="-8" y="12" width="16" height="12"/><circle r="20"/><rect x="-7" y="10" width="14" height="10" stroke="none"/></g>
<g transform="translate(1219,818) rotate(225)"><rect x="-8" y="12" width="16" height="12"/><circle r="20"/><rect x="-7" y="10" width="14" height="10" stroke="none"/></g>
<g transform="translate(1191,750) rotate(270)"><rect x="-8" y="12" width="16" height="12"/><circle r="20"/><rect x="-7" y="10" width="14" height="10" stroke="none"/></g>
<g transform="translate(1219,682) rotate(315)"><rect x="-8" y="12" width="16" height="12"/><circle r="20"/><rect x="-7" y="10" width="14" height="10" stroke="none"/></g>
</g>
<g style="font-size:10.5px;font-weight:bold;text-anchor:middle">
<text x="1287" y="652">Cog</text><text x="1287" y="664">0</text>
<text x="1355" y="680">Cog</text><text x="1355" y="692">1</text>
<text x="1383" y="748">Cog</text><text x="1383" y="760">2</text>
<text x="1355" y="816">Cog</text><text x="1355" y="828">3</text>
<text x="1287" y="844">Cog</text><text x="1287" y="856">4</text>
<text x="1219" y="816">Cog</text><text x="1219" y="828">5</text>
<text x="1191" y="748">Cog</text><text x="1191" y="760">6</text>
<text x="1219" y="680">Cog</text><text x="1219" y="692">7</text>
</g>
<g stroke="#111" stroke-width="1" fill="none">
<path marker-start="url(#b)" marker-end="url(#b)" d="M1291,629 V634"/><path marker-end="url(#b)" d="M1283,630 V634"/>
<path marker-start="url(#b)" marker-end="url(#b)" d="M1283,891 V867"/><path marker-end="url(#b)" d="M1291,884 V867"/>
<path marker-start="url(#b)" marker-end="url(#b)" d="M1145,744 H1171"/><path marker-end="url(#b)" d="M1152,756 H1171"/>
<path marker-start="url(#b)" marker-end="url(#b)" d="M1433,756 H1403"/><path marker-end="url(#b)" d="M1425,744 H1403"/>
<path marker-start="url(#b)" marker-end="url(#b)" d="M1186,658 L1204,670"/><path marker-start="url(#b)" marker-end="url(#b)" d="M1392,657 L1370,670"/>
<path marker-start="url(#b)" marker-end="url(#b)" d="M1186,862 L1206,834"/><path marker-start="url(#b)" marker-end="url(#b)" d="M1392,862 L1370,834"/>
<path marker-end="url(#b)" d="M1133,808 L1150,799"/><path marker-start="url(#b)" marker-end="url(#b)" d="M1432,810 L1440,814"/>
</g>
<ellipse cx="1110" cy="822" rx="28" ry="30" fill="#b9b6dd" stroke="#222" stroke-width="1.3"/>
<text x="1110" y="819" style="font-size:10.5px;font-weight:bold;text-anchor:middle">System</text><text x="1110" y="831" style="font-size:10.5px;font-weight:bold;text-anchor:middle">Counter</text>
<ellipse cx="1463" cy="822" rx="27" ry="30" fill="#f9f5a8" stroke="#222" stroke-width="1.3"/>
<text x="1463" y="819" style="font-size:10.5px;font-weight:bold;text-anchor:middle">I/O</text><text x="1463" y="831" style="font-size:10.5px;font-weight:bold;text-anchor:middle">Pins</text>
<text x="1289" y="941" style="font-size:17px;text-anchor:middle">Hub and Cog Interaction</text>
</svg>
</body></html>
